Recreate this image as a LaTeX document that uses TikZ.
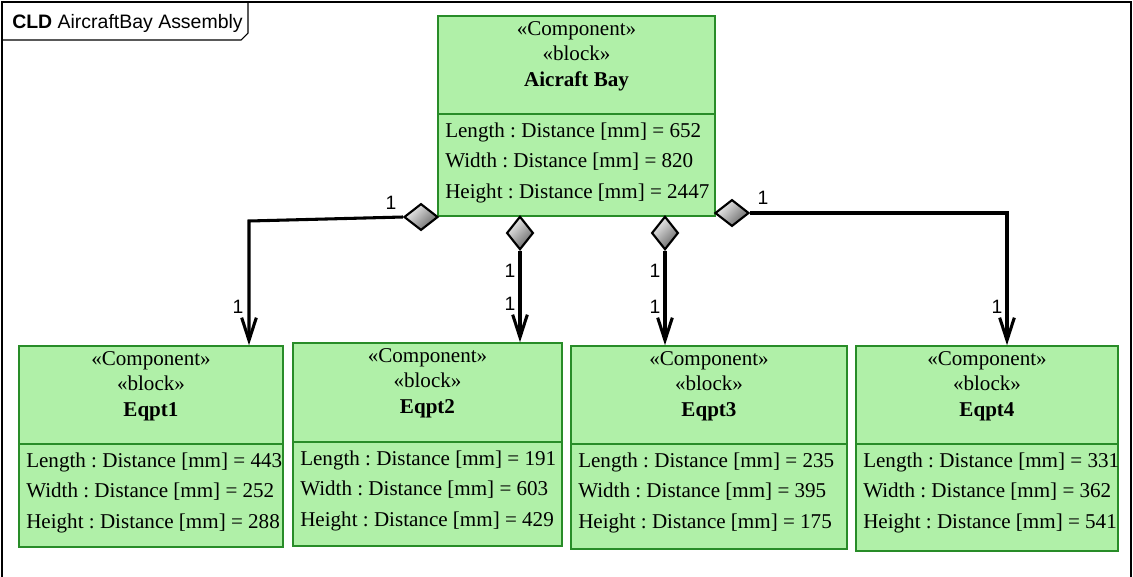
\documentclass[tikz,border=0pt]{standalone}
\usepackage{fontspec}
\setmainfont{Liberation Serif}
\newfontfamily\labelfont{Liberation Sans}
\usetikzlibrary{shapes.geometric,arrows.meta,fit,calc}
\definecolor{blockfill}{RGB}{176,240,168}
\definecolor{blockline}{RGB}{40,140,40}
\frenchspacing
\begin{document}
\begin{tikzpicture}[x=0.75pt, y=-0.75pt,
  blockbox/.style={draw=blockline, fill=blockfill, line width=1.1pt, inner sep=0pt},
  blocktext/.style={inner sep=0pt, font=\fontsize{15.8}{18}\selectfont},
  agg/.style={diamond, draw=black, line width=1.6pt, inner sep=0pt, top color=gray!10, bottom color=gray!80!black, shading angle=45},
  assoc/.style={line width=2.3pt, -{Straight Barb[length=17pt, width=11pt]}},
  mult/.style={inner sep=0pt, font=\labelfont\fontsize{14.5}{16}\selectfont}]
\useasboundingbox (0,0) rectangle (1133,576);
\draw[line width=0.8pt] (2,580) -- (2,2) -- (1131,2) -- (1131,580);
\draw[line width=0.8pt] (2,40) -- (241,40) -- (248,33) -- (248,2);
\node[anchor=base west, inner sep=0pt, font=\labelfont\fontsize{14.6}{16}\selectfont] (title) at (12,28) {\textbf{CLD} AircraftBay Assembly};
\foreach \n/\t/\xa/\ya/\xb/\yb/\ys/\l/\w/\h in {bay/Aicraft Bay/438/16/715/216/114/652/820/2447,
    eq1/Eqpt1/19/346/283/547/444/443/252/288, eq2/Eqpt2/293/343/562/546/442/191/603/429,
    eq3/Eqpt3/571/346/847/549/444/235/395/175, eq4/Eqpt4/856/346/1118/551/444/331/362/541}{
  \node[blockbox, fit={(\xa,\ya) (\xb,\yb)}] (\n) {};
  \draw[blockline, line width=1.1pt] (\xa,\ys) -- (\xb,\ys);
  \node[blocktext, anchor=base] (\n-st) at ($(\n.north)+(0,20)$) {«Component»};
  \node[blocktext, anchor=base] (\n-bl) at ($(\n.north)+(0,45)$) {«block»};
  \node[blocktext, anchor=base, font=\fontsize{15.8}{18}\selectfont\bfseries] (\n-nm) at ($(\n.north)+(0,71)$) {\t};
  \node[blocktext, anchor=base west] (\n-l) at (\xa+7,\ys+23) {Length : Distance [mm] = \l};
  \node[blocktext, anchor=base west] (\n-w) at (\xa+7,\ys+53) {Width : Distance [mm] = \w};
  \node[blocktext, anchor=base west] (\n-h) at (\xa+7,\ys+84) {Height : Distance [mm] = \h};
}
\node[agg, minimum width=25.5pt, minimum height=20pt] (d1) at (421,217) {};
\node[agg, minimum width=20pt, minimum height=25pt] (d2) at (520,233) {};
\node[agg, minimum width=20pt, minimum height=25pt] (d3) at (665,233) {};
\node[agg, minimum width=25.5pt, minimum height=20pt] (d4) at (732,213) {};
\coordinate (k1) at (249,221);
\coordinate (k4) at (1007,213);
\draw[assoc] (d1.west) -- (k1) -- (k1 |- eq1.north);
\draw[assoc] (d2.south) -- (d2.south |- eq2.north);
\draw[assoc] (d3.south) -- (d3.south |- eq3.north);
\draw[assoc] (d4.east) -- (k4) -- (k4 |- eq4.north);
\foreach \m/\x/\y in {m1a/391/203, m1b/238/307, m2a/510/271, m2b/510/304,
    m3a/655/271, m3b/655/307, m4a/763/198, m4b/997/307}
  \node[mult] (\m) at (\x,\y) {1};
\end{tikzpicture}
\end{document}
